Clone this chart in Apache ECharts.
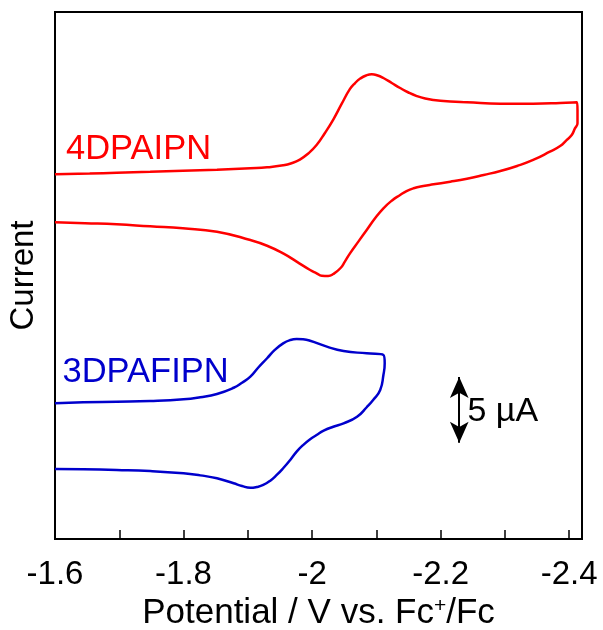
<!DOCTYPE html>
<html>
<head>
<meta charset="utf-8">
<script src="https://cdn.jsdelivr.net/npm/echarts@6/dist/echarts.min.js"></script>
<style>
  html, body { margin: 0; padding: 0; background: #fff; }
  #main { width: 603px; height: 630px; }
</style>
</head>
<body>
<div id="main"></div>
<script>
// potential in V vs. Fc+/Fc, current in µA (traces offset in one frame)
// 4DPAIPN: sweep out along the top branch, back along the bottom one
var redPotential = [
  -1.600, -1.654, -1.696, -1.748, -1.799, -1.852, -1.904, -1.930, -1.955, -1.968, -1.981, -1.994, -2.007, -2.020, -2.033, -2.046, -2.059, -2.067,
  -2.075, -2.084, -2.093, -2.101, -2.111, -2.124, -2.137, -2.150, -2.163, -2.176, -2.189, -2.215, -2.241, -2.293, -2.344, -2.386, -2.412,
  -2.413, -2.413, -2.409, -2.404, -2.396, -2.386, -2.370, -2.344, -2.319, -2.293, -2.267, -2.241, -2.215, -2.189, -2.173, -2.158, -2.147,
  -2.137, -2.124, -2.111, -2.098, -2.085, -2.072, -2.059, -2.051, -2.044, -2.033, -2.025, -2.015, -2.007, -1.997, -1.976, -1.955, -1.930,
  -1.904, -1.852, -1.799, -1.748, -1.696, -1.647, -1.600];
var redCurrent = [
  27.68, 27.74, 27.80, 27.87, 27.95, 28.03, 28.14, 28.21, 28.36, 28.52, 28.80, 29.26, 29.90, 30.82, 31.84, 33.02, 34.16, 34.61,
  34.95, 35.18, 35.27, 35.20, 34.99, 34.61, 34.23, 33.89, 33.62, 33.43, 33.32, 33.21, 33.15, 33.04, 33.04, 33.09, 33.15,
  32.56, 31.55, 31.17, 30.66, 30.28, 29.83, 29.40, 28.77, 28.31, 27.93, 27.63, 27.35, 27.12, 26.92, 26.79, 26.62, 26.41,
  26.11, 25.68, 25.10, 24.34, 23.45, 22.57, 21.68, 21.05, 20.55, 20.11, 19.96, 19.98, 20.17, 20.42, 21.05, 21.68, 22.26,
  22.69, 23.32, 23.58, 23.73, 23.89, 23.97, 24.04];

// 3DPAFIPN
var bluePotential = [
  -1.600, -1.644, -1.696, -1.748, -1.800, -1.826, -1.852, -1.878, -1.891, -1.904, -1.916, -1.930, -1.942, -1.955, -1.966, -1.976, -1.986,
  -1.997, -2.023, -2.049, -2.085, -2.111,
  -2.113, -2.111, -2.106, -2.095, -2.085, -2.070, -2.049, -2.033, -2.018, -2.007, -1.997, -1.986, -1.976, -1.966, -1.955, -1.945, -1.935,
  -1.924, -1.914, -1.904, -1.891, -1.878, -1.852, -1.826, -1.800, -1.748, -1.696, -1.644, -1.600];
var blueCurrent = [
  10.30, 10.38, 10.42, 10.47, 10.60, 10.76, 11.01, 11.48, 11.86, 12.32, 13.00, 13.72, 14.35, 14.85, 15.10, 15.18, 15.16,
  15.05, 14.60, 14.27, 14.09, 13.97,
  13.34, 12.45, 11.31, 10.55, 10.00, 9.28, 8.78, 8.52, 8.22, 7.89, 7.57, 7.13, 6.63, 6.00, 5.37, 4.86, 4.43,
  4.10, 3.95, 3.89, 4.02, 4.23, 4.61, 4.83, 4.99, 5.16, 5.24, 5.29, 5.31];

var xTicks = [-1.6, -1.8, -2, -2.2, -2.4];
var scaleBarPotential = -2.229;
var scaleBarCurrent = [7.3, 12.3];   // 5 µA

function pairs(xs, ys) {
  return xs.map(function (x, i) { return [x, ys[i]]; });
}

var font = 'Liberation Sans';
var chart = echarts.init(document.getElementById('main'));

var option = {
  animation: false,
  grid: {
    left: 55, right: 21, top: 12, bottom: 91,
    containLabel: false,
    outerBoundsMode: 'none',
    show: true, borderColor: '#000', borderWidth: 2
  },
  xAxis: {
    type: 'value',
    min: -2.42,
    max: -1.6,
    inverse: true,
    splitNumber: 8,
    name: '{a|Potential / V vs. Fc}{s|+}{a|/Fc}',
    nameLocation: 'middle',
    nameGap: 46,
    nameTextStyle: {
      rich: {
        a: { fontSize: 35, fontFamily: font, color: '#000' },
        s: { fontSize: 21, fontFamily: font, color: '#000', verticalAlign: 'top', lineHeight: 21 }
      }
    },
    axisLine: { lineStyle: { color: '#000', width: 2 } },
    axisTick: { inside: true, length: 9, lineStyle: { color: '#000', width: 1.5 } },
    splitLine: { show: false },
    axisLabel: {
      margin: 19,
      fontSize: 33,
      fontFamily: font,
      color: '#000',
      formatter: function (v) {
        for (var i = 0; i < xTicks.length; i++) {
          if (Math.abs(xTicks[i] - v) < 1e-6) return String(xTicks[i]);
        }
        return '';
      }
    }
  },
  yAxis: {
    type: 'value',
    min: 0,
    max: 40,
    name: 'Current',
    nameLocation: 'middle',
    nameGap: 15,
    nameTextStyle: { fontSize: 33, fontFamily: font, color: '#000' },
    axisLine: { show: true, lineStyle: { color: '#000', width: 2 } },
    axisTick: { show: false },
    axisLabel: { show: false },
    splitLine: { show: false }
  },
  graphic: [
    { type: 'text', x: 66, y: 149, style: { text: '4DPAIPN', fill: '#ff0000', fontSize: 34.5, fontFamily: font, verticalAlign: 'middle' } },
    { type: 'text', x: 62.5, y: 372, style: { text: '3DPAFIPN', fill: '#0000cc', fontSize: 34.5, fontFamily: font, verticalAlign: 'middle' } },
    { type: 'text', x: 467.5, y: 412, style: { text: '5 µA', fill: '#000', fontSize: 34, fontFamily: font, verticalAlign: 'middle' } }
  ],
  series: [
    {
      name: '4DPAIPN',
      type: 'line',
      data: pairs(redPotential, redCurrent),
      showSymbol: false,
      smooth: 0.5,
      lineStyle: { color: '#ff0000', width: 2.5 }
    },
    {
      name: '3DPAFIPN',
      type: 'line',
      data: pairs(bluePotential, blueCurrent),
      showSymbol: false,
      smooth: 0.5,
      lineStyle: { color: '#0000cc', width: 2.5 },
      markLine: {
        silent: true,
        symbol: ['arrow', 'arrow'],
        symbolSize: [14, 21],
        label: { show: false },
        lineStyle: { color: '#000', width: 2, type: 'solid' },
        emphasis: { disabled: true },
        data: [[
          { coord: [scaleBarPotential, scaleBarCurrent[0]] },
          { coord: [scaleBarPotential, scaleBarCurrent[1]] }
        ]]
      }
    }
  ]
};

chart.setOption(option);
</script>
</body>
</html>
